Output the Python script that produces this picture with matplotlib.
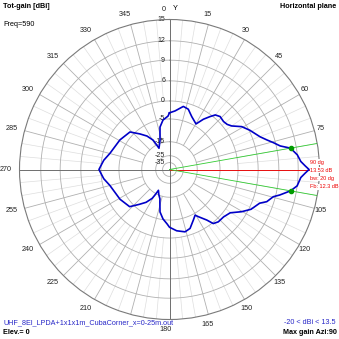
import numpy as np
import matplotlib
matplotlib.use("Agg")
import matplotlib.pyplot as plt

plt.rcParams["font.family"] = ["Liberation Sans", "DejaVu Sans"]

# Tot-gain in the horizontal plane, azimuth clockwise from Y (deg), gain in dBi
azimuth = [0, 5.4, 12.4, 17.3, 22.8, 30.2, 34, 37.5, 40, 43.7,
           48.4, 52, 55, 59.3, 63.9, 70.1, 73.1, 75.5, 78, 80,
           83.5, 86.5, 88.5, 90, 91.5, 93.5, 97.3, 100, 103, 104.7,
           108.3, 110.5, 116, 120.3, 125.5, 131.3, 137, 141, 143.6, 148.6,
           150.7, 154.8, 160.8, 166, 173.3, 180, 182.5, 187.5, 192.6, 196.5,
           198, 203, 208, 209.5, 211, 215.5, 221, 227, 239, 255,
           262, 270, 278, 285.2, 300.8, 313.5, 320.3, 326.1, 330.8, 332.1,
           333.7, 338.6, 342.2, 343.7, 347.4, 352.5, 358.4]
gain = [-3.3, -2.7, -1.1, -1.5, -3.1, -4.4, -2.2, -0.5, 0.8, 1.4,
        1.1, 1.4, 2.2, 4.6, 6.1, 7.1, 7.9, 8.7, 9.6, 11.1,
        12.0, 12.4, 13.0, 13.53, 13.0, 12.4, 12.0, 11.1, 9.6, 8.7,
        8.0, 7.1, 6.3, 4.5, 1.8, 1.0, 0.9, 0.3, -1.6, -3.7,
        -4.5, -3.5, -1.7, -1.2, -1.9, -3.0, -3.9, -5.3, -8.1, -12.3,
        -13.6, -15.3, -18.0, -14.5, -12.4, -9.5, -6.9, -3.9, -3.0, -1.9,
        -0.6, 0.6, -0.6, -1.9, -3.0, -3.9, -6.9, -9.5, -12.4, -14.5,
        -17.9, -15.3, -13.6, -12.3, -8.1, -5.3, -4.2]

ring_labels = [15, 12, 9, 6, 0, -5, -15, -25, -35]
angle_labels = [a for a in range(0, 360, 15) if a not in (90, 195)]

file_name = "UHF_8El_LPDA+1x1x1m_CubaCorner_x=0-25m.out"
freq = 590
elevation = 0
beamwidth = 20
front_back = 12.3
gain_low = -20

# radial scale: dB ring -> fraction of the plot radius
scale_db = [-45, -35, -25, -15, -5, 0, 6, 9, 12, 15]
scale_frac = [0.0, 0.046, 0.092, 0.185, 0.337, 0.457, 0.591, 0.729, 0.858, 1.0]


def to_frac(v):
    return np.interp(v, scale_db, scale_frac)


def to_db(v):
    return np.interp(v, scale_frac, scale_db)


W = 339
fig = plt.figure(figsize=(W / 100, W / 100), dpi=100)
fig.patch.set_facecolor("white")
ax = fig.add_axes([19.5 / W, 19.5 / W, 300 / W, 300 / W], projection="polar")
ax.set_theta_zero_location("N")
ax.set_theta_direction(-1)
ax.set_rscale("function", functions=(to_frac, to_db))
ax.set_rlim(-45, 15)
ax.set_xticks([])
ax.set_yticks([])
ax.grid(False)
ax.spines["polar"].set_color("#7a7a7a")
ax.spines["polar"].set_linewidth(0.8)

# grid rings and spokes
full = np.linspace(0, 2 * np.pi, 361)
for lev in ring_labels[1:]:
    ax.plot(full, np.full_like(full, lev), color="#b0b0b0", lw=0.6, zorder=1)
for a in range(0, 360, 5):
    t = np.radians(a)
    if a % 90 == 0:
        ax.plot([t, t], [-45, 15], color="#6e6e6e", lw=0.7, zorder=1.5)
    elif a % 15 == 0:
        ax.plot([t, t], [-15, 15], color="#b0b0b0", lw=0.6, zorder=1)
    else:
        ax.plot([t, t], [0, 15], color="#dedede", lw=0.5, zorder=0.9)

# pattern
theta = np.radians(azimuth + [azimuth[0] + 360])
ax.plot(theta, gain + [gain[0]], color="#0000c8", lw=1.2, zorder=5)

# max gain direction and half-power beamwidth
i_max = int(np.argmax(gain))
max_gain = gain[i_max]
max_az = azimuth[i_max]
edges = [max_az - beamwidth / 2, max_az + beamwidth / 2]
edge_gain = np.interp(edges, azimuth, gain)
ax.plot([np.radians(max_az)] * 2, [-45, 15], color="#ff0000", lw=0.6, zorder=3)
for e in edges:
    ax.plot([np.radians(e)] * 2, [-45, 15], color="#33cc33", lw=0.6, zorder=3)
ax.plot(np.radians(edges), edge_gain, "o", color="#009a00", ms=3, zorder=6)

# ring values along the Y axis
for lev in ring_labels:
    ax.annotate(str(lev), xy=(0, lev), xytext=(-4.5, 0), textcoords="offset pixels",
                ha="right", va="center", fontsize=5, color="#222222", zorder=2)

# azimuth labels round the rim
for a in angle_labels:
    t = np.radians(a)
    dx = 10 * np.sin(t) - (6 if a == 0 else 3.5)
    dy = 10 * np.cos(t)
    ax.annotate(str(a), xy=(t, 15), xytext=(dx, dy), textcoords="offset pixels",
                ha="center", va="center", fontsize=5.2, color="#222222",
                annotation_clip=False)


def put(px, py, s, **kw):
    kw.setdefault("fontsize", 5.2)
    kw.setdefault("va", "center")
    fig.text(px / W, 1 - py / W, s, **kw)


put(175, 9, "Y", ha="center")
put(3, 7, "Tot-gain [dBi]", fontweight="bold")
put(3, 25, "Freq=%d" % freq)
put(336, 6, "Horizontal plane", fontweight="bold", ha="right")
put(3, 323, file_name, color="#2828c8")
put(3, 333, "Elev.= %d" % elevation, fontweight="bold")
put(336, 323, "%d < dBi < %.1f" % (gain_low, max_gain), color="#2828c8", ha="right")
put(337, 333, "Max gain Azi:%g" % max_az, fontweight="bold", ha="right")

# red readout next to the main lobe
readout = ["%g dg" % max_az, "%.2f dB" % max_gain,
           "bw: %g dg" % beamwidth, "Fb: %.1f dB" % front_back]
for k, s in enumerate(readout):
    ax.text(310 / W, 1 - (162 + 8.3 * k) / W, s, transform=fig.transFigure,
            fontsize=4.0, color="#ee0000", va="center", ha="left", zorder=4,
            bbox=dict(facecolor="white", edgecolor="none", pad=0.3))

fig.savefig("out.png", dpi=100)
